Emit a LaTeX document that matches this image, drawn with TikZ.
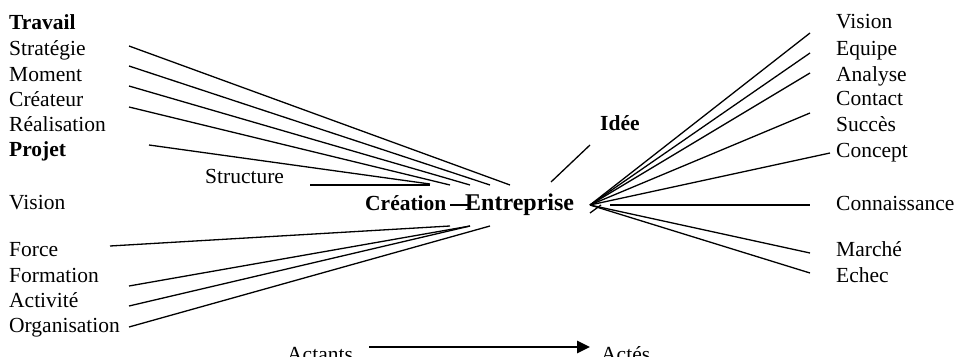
\documentclass[tikz,border=0pt]{standalone}
\usepackage{fontspec}
\setmainfont{Liberation Serif}
\usetikzlibrary{arrows.meta}
\tikzset{
  lbl/.style={anchor=base west, inner sep=0pt, font=\fontsize{21.5}{24}\selectfont},
  blbl/.style={lbl, font=\fontsize{21.5}{24}\selectfont\bfseries},
  biglbl/.style={lbl, font=\fontsize{24}{27}\selectfont\bfseries},
  ln/.style={line width=1.3pt},
  bigarrow/.style={line width=2.6pt, -{Triangle[length=13pt,width=12pt]}}
}
\begin{document}
\begin{tikzpicture}[x=1pt,y=-1pt]
\useasboundingbox (0,0) rectangle (958,356);
% left labels
\node[blbl] (travail) at (9,29) {Travail};
\node[lbl] (strategie) at (9,55) {Stratégie};
\node[lbl] (moment) at (9,81) {Moment};
\node[lbl] (createur) at (9,106) {Créateur};
\node[lbl] (realisation) at (9,131) {Réalisation};
\node[blbl] (projet) at (9,156) {Projet};
\node[lbl] (structure) at (205,183) {Structure};
\node[lbl] (visionL) at (9,209) {Vision};
\node[lbl] (force) at (9,256) {Force};
\node[lbl] (formation) at (9,282) {Formation};
\node[lbl] (activite) at (9,307) {Activité};
\node[lbl] (organisation) at (9,332) {Organisation};
% centre
\node[blbl] (creation) at (365,210) {Création};
\node[biglbl] (entreprise) at (465,210) {Entreprise};
\node[blbl] (idee) at (600,130) {Idée};
% right labels
\node[lbl] (visionR) at (836,28) {Vision};
\node[lbl] (equipe) at (836,55) {Equipe};
\node[lbl] (analyse) at (836,81) {Analyse};
\node[lbl] (contact) at (836,105) {Contact};
\node[lbl] (succes) at (836,131) {Succès};
\node[lbl] (concept) at (836,157) {Concept};
\node[lbl] (connaissance) at (836,210) {Connaissance};
\node[lbl] (marche) at (836,256) {Marché};
\node[lbl] (echec) at (836,282) {Echec};
% bottom
\node[lbl] (actants) at (287,361) {Actants};
\node[lbl] (actes) at (601,361) {Actés};

% coordinates for line ends
\coordinate (s1) at (129,46);  \coordinate (e1) at (510,185);
\coordinate (s2) at (129,66);  \coordinate (e2) at (490,185);
\coordinate (s3) at (129,86);  \coordinate (e3) at (470,185);
\coordinate (s4) at (129,107); \coordinate (e4) at (450,185);
\coordinate (s5) at (149,145); \coordinate (e5) at (430,184);
\coordinate (s6) at (310,185); \coordinate (e6) at (430,185);
\coordinate (f1) at (110,246); \coordinate (g1) at (450,226);
\coordinate (f2) at (129,286); \coordinate (g2) at (470,226);
\coordinate (f3) at (129,306);
\coordinate (f4) at (129,327); \coordinate (g4) at (490,226);
\coordinate (c1) at (450,205); \coordinate (c2) at (470,205);
\coordinate (i1) at (551,182); \coordinate (i2) at (590,145);
\coordinate (hub) at (590,205);
\coordinate (r1) at (810,33);
\coordinate (r2) at (810,53);
\coordinate (r3) at (810,73);
\coordinate (r4) at (810,113);
\coordinate (r5) at (830,153);
\coordinate (k1) at (610,205); \coordinate (k2) at (810,205);
\coordinate (r7) at (810,253);
\coordinate (r8) at (810,273);
\coordinate (t1) at (590,213); \coordinate (t2) at (601,205);
\coordinate (a1) at (369,347); \coordinate (a2) at (590,347);

\draw[ln] (s1) -- (e1);
\draw[ln] (s2) -- (e2);
\draw[ln] (s3) -- (e3);
\draw[ln] (s4) -- (e4);
\draw[ln] (s5) -- (e5);
\draw[ln] (s6) -- (e6);
\draw[ln] (f1) -- (g1);
\draw[ln] (f2) -- (g2);
\draw[ln] (f3) -- (g2);
\draw[ln] (f4) -- (g4);
\draw[ln] (c1) -- (c2);
\draw[ln] (i1) -- (i2);
\draw[ln] (hub) -- (r1);
\draw[ln] (hub) -- (r2);
\draw[ln] (hub) -- (r3);
\draw[ln] (hub) -- (r4);
\draw[ln] (hub) -- (r5);
\draw[ln] (k1) -- (k2);
\draw[ln] (hub) -- (r7);
\draw[ln] (hub) -- (r8);
\draw[ln] (t1) -- (t2);
\draw[bigarrow] (a1) -- (a2);
\end{tikzpicture}
\end{document}
